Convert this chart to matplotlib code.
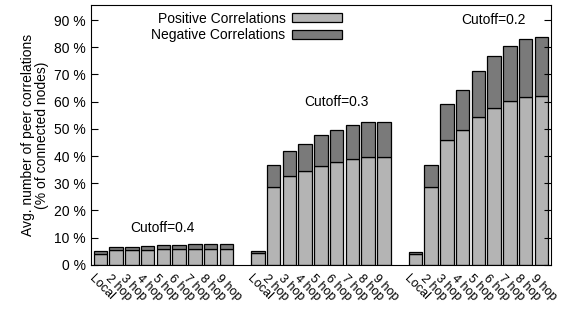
import matplotlib
matplotlib.use("Agg")
import matplotlib.pyplot as plt
import numpy as np

plt.rcParams["font.family"] = ["Liberation Sans", "DejaVu Sans"]

hops = ["Local", "2 hop", "3 hop", "4 hop", "5 hop", "6 hop", "7 hop", "8 hop", "9 hop"]
cutoffs = ["Cutoff=0.4", "Cutoff=0.3", "Cutoff=0.2"]

# positive part and total height (% of connected nodes)
pos_04 = [4.0, 5.3, 5.5, 5.6, 5.8, 5.9, 6.0, 6.0, 6.0]
tot_04 = [5.1, 6.4, 6.7, 7.1, 7.2, 7.2, 7.6, 7.6, 7.6]
pos_03 = [4.2, 28.8, 32.5, 34.4, 36.5, 37.7, 39.0, 39.6, 39.6]
tot_03 = [5.0, 36.6, 41.7, 44.4, 47.7, 49.4, 51.6, 52.4, 52.5]
pos_02 = [3.9, 28.8, 46.0, 49.4, 54.2, 57.8, 60.3, 61.7, 62.2]
tot_02 = [4.9, 36.6, 59.1, 64.3, 71.3, 76.8, 80.6, 83.0, 83.8]

pos_groups = [pos_04, pos_03, pos_02]
tot_groups = [tot_04, tot_03, tot_02]

c_pos = "#b4b4b4"
c_neg = "#7a7a7a"

fig = plt.figure(figsize=(5.61, 3.15), dpi=100)
ax = fig.add_axes([0.162, 0.159, 0.820, 0.825])

xticks, xlabels = [], []
for g, (pos, tot) in enumerate(zip(pos_groups, tot_groups)):
    x = np.arange(len(hops)) + g * (len(hops) + 1)
    pos = np.array(pos)
    neg = np.array(tot) - pos
    ax.bar(x, pos, width=0.85, color=c_pos, edgecolor="black", linewidth=0.9,
           label="Positive Correlations" if g == 0 else None)
    ax.bar(x, neg, bottom=pos, width=0.85, color=c_neg, edgecolor="black",
           linewidth=0.9, label="Negative Correlations" if g == 0 else None)
    xticks += list(x)
    xlabels += hops

# rotated category labels under each bar
for xt, lab in zip(xticks, xlabels):
    ax.annotate(lab, xy=(xt, 0), xycoords=("data", "axes fraction"),
                xytext=(-5, -8), textcoords="offset pixels",
                rotation=-45, ha="left", va="top", rotation_mode="anchor",
                fontsize=9, annotation_clip=False)

# cutoff annotations
ax.text(3.96, 13.6, cutoffs[0], ha="center", va="center", fontsize=10)
ax.text(15.0, 60.0, cutoffs[1], ha="center", va="center", fontsize=10)
ax.text(24.97, 90.0, cutoffs[2], ha="center", va="center", fontsize=10)

ax.set_xlim(-0.6, 28.6)
ax.set_ylim(0, 95.5)
ax.set_yticks(range(0, 91, 10))
ax.set_yticklabels([f"{v} %" for v in range(0, 91, 10)], fontsize=10)
ax.set_xticks([])
ax.tick_params(axis="y", direction="in", length=5, right=True, width=0.8)
ax.set_ylabel("Avg. number of peer correlations\n(% of connected nodes)",
              fontsize=10, linespacing=0.95, labelpad=4)

ax.legend(loc="upper right", bbox_to_anchor=(0.553, 0.985), frameon=False,
          fontsize=10, markerfirst=False, handlelength=3.6, handleheight=0.6,
          labelspacing=0.2, borderaxespad=0, borderpad=0.2, handletextpad=0.5)

fig.savefig("out.png", dpi=100)
